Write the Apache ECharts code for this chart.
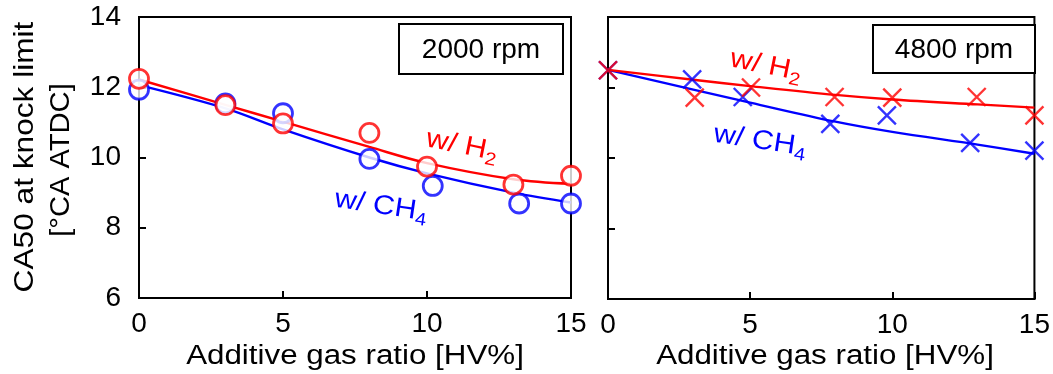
<!DOCTYPE html>
<html><head><meta charset="utf-8">
<script src="https://cdn.jsdelivr.net/npm/echarts@6/dist/echarts.min.js"></script>
<style>html,body{margin:0;padding:0;background:#fff}#c{width:1053px;height:374px}</style>
</head><body><div id="c"></div>
<script>
// ---- data ----
const xTicks = [0, 5, 10, 15];
const yTicks = [6, 8, 10, 12, 14];
const panelTitles = ['2000 rpm', '4800 rpm'];
const yTitleLines = ['CA50 at knock limit', '[°CA ATDC]'];
const xTitle = 'Additive gas ratio [HV%]';

// 2000 rpm – measured points
const h2X_2000  = [0, 3, 5, 8, 10, 13, 15];
const h2Y_2000  = [12.24, 11.49, 10.97, 10.70, 9.74, 9.23, 9.48];
const ch4X_2000 = [0, 3, 5, 8, 10.2, 13.2, 15];
const ch4Y_2000 = [11.93, 11.54, 11.26, 9.96, 9.19, 8.69, 8.69];
// 2000 rpm – fitted curves
const h2FitX_2000  = [0, 3, 5, 8, 10, 13, 15];
const h2FitY_2000  = [12.22, 11.5, 11.02, 10.3, 9.84, 9.38, 9.25];
const ch4FitX_2000 = [0, 3, 5, 8, 10, 13, 15];
const ch4FitY_2000 = [12.06, 11.4, 10.8, 10.0, 9.55, 9.0, 8.72];

// 4800 rpm – measured points
const h2X_4800  = [0, 3.05, 5.03, 7.97, 10, 12.97, 15];
const h2Y_4800  = [12.49, 11.71, 12.0, 11.73, 11.71, 11.73, 11.21];
const ch4X_4800 = [0, 2.96, 4.74, 7.82, 9.81, 12.74, 15];
const ch4Y_4800 = [12.49, 12.23, 11.73, 10.97, 11.21, 10.43, 10.21];
// 4800 rpm – fitted curves
const h2FitX_4800  = [0, 3, 5, 8, 10, 13, 15];
const h2FitY_4800  = [12.5, 12.22, 12.04, 11.79, 11.66, 11.52, 11.43];
const ch4FitX_4800 = [0, 3, 5, 8, 10, 13, 15];
const ch4FitY_4800 = [12.5, 11.94, 11.57, 11.03, 10.74, 10.38, 10.12];

// ---- styling / layout ----
const RED = '#ff0000', BLUE = '#0000ff';
const FONT = '"Liberation Sans", Arial, sans-serif';
const G1 = {left: 139, top: 17, width: 432, height: 281};
const G2 = {left: 608, top: 17, width: 434, height: 282};
const zip = (xs, ys) => xs.map((x, i) => [x, ys[i]]);
const CROSS = 'path://M0,0L10,10M10,0L0,10';

function xAxis(gi) {
  return {
    type: 'value', gridIndex: gi, min: 0, max: 15, interval: 5,
    axisLine: {show: true, onZero: false, lineStyle: {color: '#000', width: 2}},
    axisTick: {show: true, inside: true, length: 7, lineStyle: {color: '#000', width: 2}},
    axisLabel: {show: true, color: '#000', fontSize: 28, fontFamily: FONT, margin: 12},
    splitLine: {show: false}
  };
}
function yAxis(gi, labels) {
  return {
    type: 'value', gridIndex: gi, min: 6, max: 14, interval: 2,
    axisLine: {show: true, onZero: false, lineStyle: {color: '#000', width: 2}},
    axisTick: {show: true, inside: true, length: 7, lineStyle: {color: '#000', width: 2}},
    axisLabel: {show: labels, color: '#000', fontSize: 28, fontFamily: FONT, margin: 18},
    splitLine: {show: false}
  };
}
function fit(name, gi, data, color) {
  return {name, type: 'line', xAxisIndex: gi, yAxisIndex: gi, data, smooth: 0.35,
    showSymbol: false, clip: false, lineStyle: {color, width: 2.4}, z: 2, silent: true};
}
function pts(name, gi, data, color, symbol) {
  const isCross = symbol === 'cross';
  return {name, type: 'scatter', xAxisIndex: gi, yAxisIndex: gi, data, clip: false,
    symbol: isCross ? CROSS : 'circle', symbolSize: isCross ? 18 : 19,
    itemStyle: isCross ? {color, borderColor: color, borderWidth: 2.4}
                       : {color: '#fff', borderColor: color, borderWidth: 2.8},
    z: 3, silent: true};
}
function label(cx, cy, main, sub, color, rot, sx) {
  return {
    type: 'text', x: cx, y: cy, rotation: rot, scaleX: sx, z: 10,
    style: {
      text: '{n|' + main + '}{s|' + sub + '}', align: 'center', verticalAlign: 'middle',
      textAlign: 'center', textVerticalAlign: 'middle',
      rich: {
        n: {fontSize: 27, fontFamily: FONT, fill: color, color: color, lineHeight: 34},
        s: {fontSize: 18, fontFamily: FONT, fill: color, color: color, lineHeight: 15, verticalAlign: 'bottom'}
      }
    }
  };
}
function txt(x, y, text, size, sx, rot) {
  return {type: 'text', x, y, rotation: rot || 0, scaleX: sx, z: 10,
    style: {text, fontSize: size, fontFamily: FONT, fill: '#000',
      align: 'center', verticalAlign: 'middle', textAlign: 'center', textVerticalAlign: 'middle'}};
}

const chart = echarts.init(document.getElementById('c'), null, {renderer: 'canvas'});
chart.setOption({
  animation: false,
  backgroundColor: '#fff',
  grid: [
    Object.assign({show: true, borderColor: '#000', borderWidth: 2, containLabel: false}, G1),
    Object.assign({show: true, borderColor: '#000', borderWidth: 2, containLabel: false}, G2)
  ],
  xAxis: [xAxis(0), xAxis(1)],
  yAxis: [yAxis(0, true), yAxis(1, false)],
  series: [
    fit('w/ CH4 fit 2000', 0, zip(ch4FitX_2000, ch4FitY_2000), BLUE),
    fit('w/ H2 fit 2000', 0, zip(h2FitX_2000, h2FitY_2000), RED),
    pts('w/ CH4 2000', 0, zip(ch4X_2000, ch4Y_2000), BLUE, 'circle'),
    pts('w/ H2 2000', 0, zip(h2X_2000, h2Y_2000), RED, 'circle'),
    fit('w/ CH4 fit 4800', 1, zip(ch4FitX_4800, ch4FitY_4800), BLUE),
    fit('w/ H2 fit 4800', 1, zip(h2FitX_4800, h2FitY_4800), RED),
    pts('w/ CH4 4800', 1, zip(ch4X_4800, ch4Y_4800), BLUE, 'cross'),
    pts('w/ H2 4800', 1, zip(h2X_4800, h2Y_4800), RED, 'cross')
  ],
  graphic: [
    // panel title boxes
    {type: 'rect', shape: {x: 399, y: 24, width: 164, height: 50}, style: {fill: '#fff', stroke: '#000', lineWidth: 2}, z: 9},
    {type: 'rect', shape: {x: 873, y: 25, width: 162, height: 48}, style: {fill: '#fff', stroke: '#000', lineWidth: 2}, z: 9},
    txt(481, 50, panelTitles[0], 28, 1.0),
    txt(954, 50, panelTitles[1], 28, 1.0),
    // axis titles
    txt(25, 157, yTitleLines[0], 28, 1.13, Math.PI / 2),
    txt(61, 160, yTitleLines[1], 28, 1.04, Math.PI / 2),
    txt(G1.left + G1.width / 2, 357, xTitle, 27, 1.16),
    txt(G2.left + G2.width / 2, 357, xTitle, 27, 1.16),
    // series annotations
    label(462, 146, 'w/ H', '2', RED, -0.2, 1.13),
    label(381, 206, 'w/ CH', '4', BLUE, -0.15, 1.12),
    label(766, 66, 'w/ H', '2', RED, -0.2, 1.13),
    label(760, 141, 'w/ CH', '4', BLUE, -0.15, 1.12)
  ]
});
</script></body></html>
